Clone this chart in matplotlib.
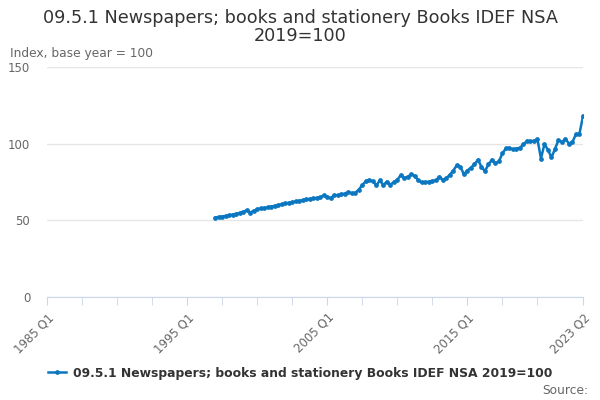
import matplotlib.pyplot as plt

# quarterly series, 1997 Q1 .. 2023 Q2 (index, 2019 = 100)
start_year = 1997
values = [
    51.8, 52.2, 52.5, 52.9,
    53.3, 53.8, 54.3, 54.8,
    55.6, 56.5, 55.1, 56.3,
    57.2, 57.8, 58.0, 58.5,
    59.0, 59.4, 60.0, 60.5,
    61.0, 61.4, 61.8, 62.3,
    62.7, 63.1, 63.6, 64.0,
    64.3, 64.6, 65.0, 66.3,
    65.5, 64.3, 66.5, 66.2,
    67.0, 67.4, 68.5, 67.6,
    68.0, 70.0, 73.0, 75.5,
    76.3, 75.5, 72.8, 76.0,
    73.0, 75.2, 73.3, 74.8,
    76.5, 79.5, 77.5, 78.5,
    80.0, 79.0, 76.0, 74.7,
    74.8, 75.2, 75.8, 76.0,
    78.5, 76.3, 77.5, 79.8,
    82.5, 86.0, 85.0, 80.0,
    82.5, 84.3, 86.5, 89.5,
    85.0, 82.0, 86.5, 89.5,
    87.2, 88.5, 93.6, 97.0,
    97.2, 96.2, 96.8, 97.3,
    99.5, 101.8, 101.5, 101.8,
    102.9, 90.3, 99.7, 96.0,
    91.0, 96.5, 102.3, 101.0,
    103.2, 100.0, 101.2, 106.2,
    106.6, 118.0,
]
tick_labels = ['1985 Q1', '1995 Q1', '2005 Q1', '2015 Q1', '2023 Q2']

series_name = '09.5.1 Newspapers; books and stationery Books IDEF NSA 2019=100'

# x = quarters since 1985 Q1
x0 = (start_year - 1985) * 4
xs = [x0 + i for i in range(len(values))]
last_q = xs[-1]

fig = plt.figure(figsize=(6, 4), dpi=100)
ax = fig.add_axes([47 / 600, 1 - 297 / 400, 536 / 600, 230 / 400])

blue = '#0a77c0'
ax.plot(xs, values, color=blue, lw=1.8, marker='o', ms=2.4, label=series_name)

ax.set_xlim(0, last_q)
ax.set_ylim(0, 150)
ax.set_yticks([0, 50, 100, 150])
ax.yaxis.grid(True, color='#e6e6e6', lw=1)
ax.set_axisbelow(True)
ax.tick_params(axis='y', length=0, labelsize=8.5, labelcolor='#666666', pad=12)

major = [0, 40, 80, 120, last_q]
minor = [q for q in range(0, 150, 10) if q not in major]
ax.set_xticks(major)
ax.set_xticklabels(tick_labels, rotation=45, ha='right', rotation_mode='anchor')
ax.set_xticks(minor, minor=True)
ax.tick_params(axis='x', which='both', length=6, color='#ccd6eb', labelsize=8.5,
               labelcolor='#666666', pad=4)

for s in ['top', 'right', 'left']:
    ax.spines[s].set_visible(False)
ax.spines['bottom'].set_color('#ccd6eb')

fig.text(0.5, 1 - 27 / 400, '09.5.1 Newspapers; books and stationery Books IDEF NSA\n2019=100',
         ha='center', va='center', fontsize=12.7, color='#333333', linespacing=1.0)
fig.text(10 / 600, 1 - 54 / 400, 'Index, base year = 100', ha='left', va='center',
         fontsize=8.8, color='#666666')

leg = fig.legend(loc='center', bbox_to_anchor=(0.5, 1 - 373 / 400), frameon=False,
                 prop={'size': 8.9, 'weight': 'bold'}, handlelength=1.5, handletextpad=0.5)
for t in leg.get_texts():
    t.set_color('#333333')

fig.text(588 / 600, 1 - 391 / 400, 'Source:', ha='right', va='center', fontsize=8.8,
         color='#666666')

fig.savefig('out.png', dpi=100)
